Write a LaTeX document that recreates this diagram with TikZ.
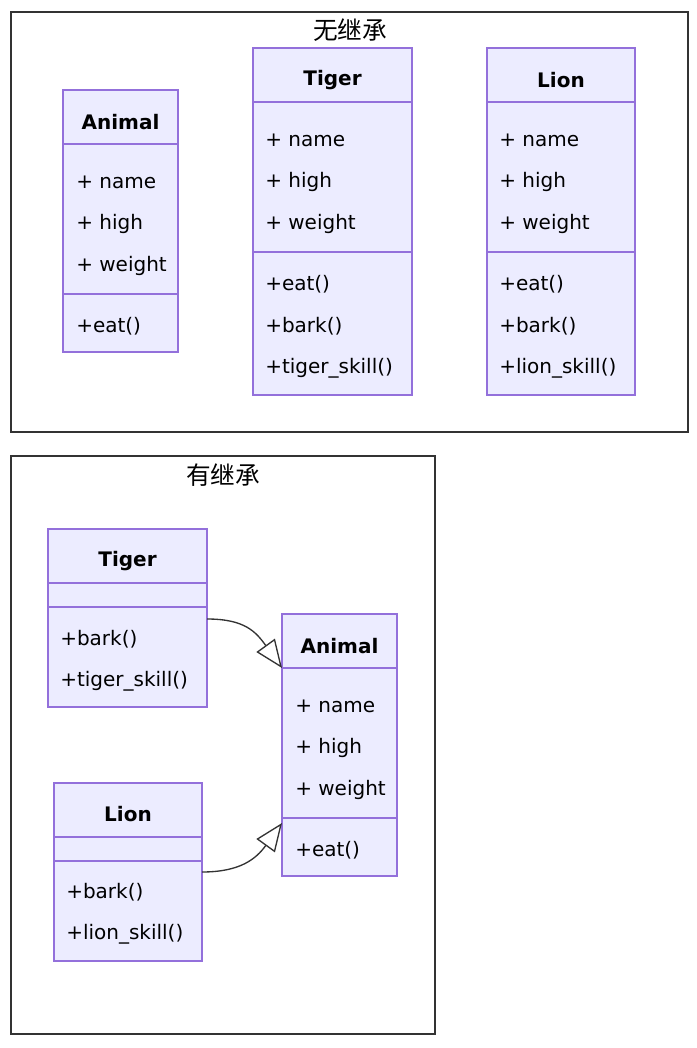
\documentclass[tikz,border=0pt]{standalone}
\usepackage{fontspec}
\setmainfont{DejaVu Sans}
\newfontfamily\cjk{Noto Sans CJK SC}
\usetikzlibrary{arrows.meta}
\definecolor{boxfill}{HTML}{ECECFF}
\definecolor{boxline}{HTML}{9370DB}
\definecolor{frameline}{HTML}{333333}
\tikzset{
  px/.style={x=0.75pt,y=-0.75pt},
  frame/.style={draw=frameline,line width=1.1pt},
  umlbox/.style={draw=boxline,fill=boxfill,line width=0.9pt},
  sep/.style={draw=boxline,line width=0.9pt},
  ttl/.style={font=\fontsize{15}{17}\selectfont\bfseries,inner sep=0pt,text=black},
  mem/.style={font=\fontsize{15}{17}\selectfont,inner sep=0pt,anchor=west,text=black},
  grp/.style={font=\cjk\fontsize{18.5}{20}\selectfont,inner sep=0pt,text=black},
  inh/.style={draw=frameline,line width=1pt,-{Triangle[open,length=21pt,width=17pt]}}
}
\begin{document}
\begin{tikzpicture}[px]
\useasboundingbox (0,0) rectangle (696,1048);
% frames
\draw[frame] (11,12) rectangle (688,432);
\node[grp] (g1) at (350,30) {无继承};
\draw[frame] (11,456) rectangle (435,1034);
\node[grp] (g2) at (223,475) {有继承};

% --- top Animal
\draw[umlbox] (63,90) rectangle (178,352);
\draw[sep] (63,144) -- (178,144);
\draw[sep] (63,294) -- (178,294);
\node[ttl] (a1t) at (120.5,122) {Animal};
\node[mem] (a1a) at (76,182) {+ name};
\node[mem] (a1b) at (76,224) {+ high};
\node[mem] (a1c) at (76,266) {+ weight};
\node[mem] (a1m) at (76,326) {+eat()};

% --- top Tiger
\draw[umlbox] (253,48) rectangle (412,395);
\draw[sep] (253,102) -- (412,102);
\draw[sep] (253,252) -- (412,252);
\node[ttl] (t1t) at (332.5,80) {Tiger};
\node[mem] (t1a) at (265,140) {+ name};
\node[mem] (t1b) at (265,182) {+ high};
\node[mem] (t1c) at (265,224) {+ weight};
\node[mem] (t1m1) at (265,284) {+eat()};
\node[mem] (t1m2) at (265,326) {+bark()};
\node[mem] (t1m3) at (265,368) {+tiger\_skill()};

% --- top Lion
\draw[umlbox] (487,48) rectangle (635,395);
\draw[sep] (487,102) -- (635,102);
\draw[sep] (487,252) -- (635,252);
\node[ttl] (l1t) at (561,80) {Lion};
\node[mem] (l1a) at (499,140) {+ name};
\node[mem] (l1b) at (499,182) {+ high};
\node[mem] (l1c) at (499,224) {+ weight};
\node[mem] (l1m1) at (499,284) {+eat()};
\node[mem] (l1m2) at (499,326) {+bark()};
\node[mem] (l1m3) at (499,368) {+lion\_skill()};

% --- bottom Tiger
\draw[umlbox] (48,529) rectangle (207,707);
\draw[sep] (48,583) -- (207,583);
\draw[sep] (48,607) -- (207,607);
\node[ttl] (t2t) at (127.5,561) {Tiger};
\node[mem] (t2m1) at (60,639) {+bark()};
\node[mem] (t2m2) at (60,681) {+tiger\_skill()};

% --- bottom Lion
\draw[umlbox] (54,783) rectangle (202,961);
\draw[sep] (54,837) -- (202,837);
\draw[sep] (54,861) -- (202,861);
\node[ttl] (l2t) at (128,814) {Lion};
\node[mem] (l2m1) at (66,892) {+bark()};
\node[mem] (l2m2) at (66,934) {+lion\_skill()};

% --- bottom Animal
\draw[umlbox] (282,614) rectangle (397,876);
\draw[sep] (282,668) -- (397,668);
\draw[sep] (282,818) -- (397,818);
\node[ttl] (a2t) at (339.5,646) {Animal};
\node[mem] (a2a) at (295,706) {+ name};
\node[mem] (a2b) at (295,748) {+ high};
\node[mem] (a2c) at (295,790) {+ weight};
\node[mem] (a2m) at (295,850) {+eat()};

% connectors
\coordinate (ts) at (207,619);
\coordinate (te) at (282,668);
\coordinate (ls) at (202,872);
\coordinate (le) at (282,823);
\draw[inh] (ts) .. controls (245,619) and (256,632) .. (te);
\draw[inh] (ls) .. controls (240,872) and (256,859) .. (le);
\end{tikzpicture}
\end{document}
